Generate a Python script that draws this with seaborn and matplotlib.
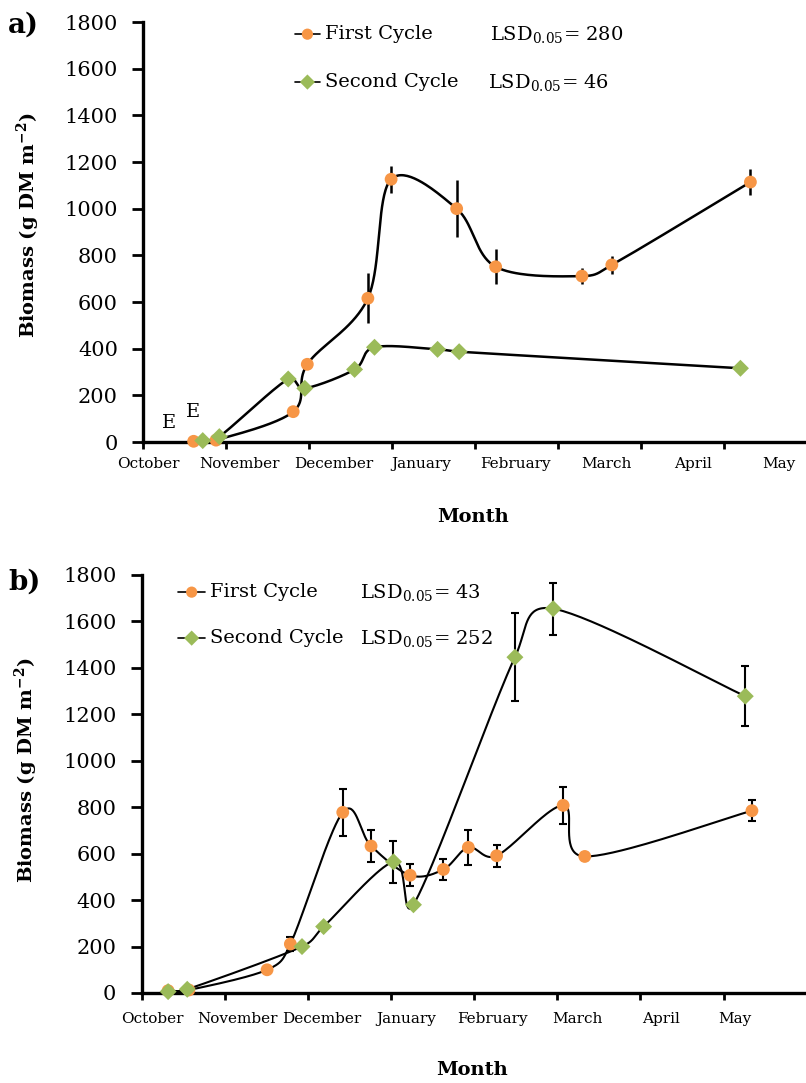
import numpy as np
import seaborn as sns
import matplotlib.pyplot as plt

# ==============================
# Data (x = months after 1 October)
# ==============================
months = ["October", "November", "December", "January",
          "February", "March", "April", "May"]
a_month_pos = [0.07, 1.16, 2.30, 3.35, 4.49, 5.58, 6.63, 7.66]
b_month_pos = [0.13, 1.15, 2.17, 3.18, 4.22, 5.24, 6.25, 7.14]

# panel a
a_first_x = [0.61, 0.88, 1.81, 1.98, 2.71, 2.99, 3.78, 4.25, 5.29, 5.65, 7.32]
a_first_y = [3, 8, 130, 333, 616, 1126, 1000, 751, 711, 759, 1114]
a_first_err = [0, 0, 0, 0, 107, 59, 121, 75, 34, 39, 54]

a_second_x = [0.72, 0.92, 1.75, 1.95, 2.55, 2.79, 3.55, 3.81, 7.20]
a_second_y = [6, 23, 270, 230, 311, 406, 397, 387, 316]
a_second_err = [0, 0, 0, 0, 0, 20, 0, 22, 0]

a_lsd = ["280", "46"]
e_x = [0.31, 0.60]
e_y = [83, 130]

# panel b
b_first_x = [0.32, 0.57, 1.51, 1.79, 2.42, 2.76, 3.23, 3.63, 3.93, 4.27, 5.07, 5.33, 7.34]
b_first_y = [10, 13, 100, 211, 778, 633, 507, 532, 627, 591, 808, 588, 785]
b_first_err = [0, 0, 0, 30, 100, 70, 47, 45, 75, 48, 80, 15, 45]

b_second_x = [0.32, 0.55, 1.93, 2.19, 3.03, 3.27, 4.49, 4.95, 7.26]
b_second_y = [6, 16, 200, 286, 565, 380, 1446, 1655, 1278]
b_second_err = [0, 0, 0, 0, 90, 12, 190, 112, 130]

b_lsd = ["43", "252"]

ORANGE = "#F79646"
GREEN = "#9BBB59"

# ==============================
# Style
# ==============================
sns.set_style("ticks")
plt.rcParams["font.family"] = ["DejaVu Serif"]
plt.rcParams["mathtext.fontset"] = "dejavuserif"
for k in ["text.color", "axes.labelcolor", "xtick.color", "ytick.color", "axes.edgecolor"]:
    plt.rcParams[k] = "black"


def smooth_curve(x, y, sx, sy, n=40):
    # Excel-like smoothed line: Catmull-Rom Bezier, arms capped at half a segment
    P = np.column_stack([np.asarray(x, float) * sx, np.asarray(y, float) * sy])
    pts = []
    t = np.linspace(0, 1, n)[:, None]
    for i in range(len(P) - 1):
        p0 = P[i - 1] if i > 0 else P[i]
        p1, p2 = P[i], P[i + 1]
        p3 = P[i + 2] if i + 2 < len(P) else P[i + 1]
        half = np.linalg.norm(p2 - p1) / 2
        a1 = (p2 - p0) / 6
        a2 = (p3 - p1) / 6
        for a in (a1, a2):
            n_a = np.linalg.norm(a)
            if n_a > half:
                a *= half / n_a
        c1 = p1 + a1
        c2 = p2 - a2
        seg = (1 - t) ** 3 * p1 + 3 * (1 - t) ** 2 * t * c1 + 3 * (1 - t) * t ** 2 * c2 + t ** 3 * p2
        pts.append(seg if i == 0 else seg[1:])
    pts = np.vstack(pts)
    return pts[:, 0] / sx, pts[:, 1] / sy


def draw_panel(ax, first, second, month_pos, lsd, lw, elw, capsize, leg):
    sx, sy = 83.0, 420.0 / 1800
    for (x, y, err), color, marker, s in [(first, ORANGE, "o", 85), (second, GREEN, "D", 75)]:
        xs, ys = smooth_curve(x, y, sx, sy)
        sns.lineplot(x=xs, y=ys, sort=False, estimator=None, color="black",
                     lw=lw, ax=ax, zorder=2)
        err = np.asarray(err, float)
        m = err > 0
        ax.errorbar(np.asarray(x)[m], np.asarray(y)[m], yerr=err[m], fmt="none",
                    ecolor="black", elinewidth=elw, capsize=capsize,
                    capthick=elw, zorder=3)
        sns.scatterplot(x=x, y=y, marker=marker, s=s, color=color,
                        edgecolor="none", ax=ax, zorder=4, clip_on=False)

    ax.set_xlim(0, 7.99)
    ax.set_ylim(0, 1800)
    ax.set_yticks(range(0, 1801, 200))
    ax.set_xticks(range(8))
    ax.set_xticklabels([])
    ax.set_xticks(month_pos, minor=True)
    ax.set_xticklabels(months, minor=True, fontsize=11)
    ax.tick_params(axis="x", which="major", direction="out", length=5, width=2)
    ax.tick_params(axis="x", which="minor", length=0, pad=leg["xpad"])
    ax.tick_params(axis="y", direction="out", length=8, width=2,
                   labelsize=15, pad=10)
    sns.despine(ax=ax)
    for sp in ["left", "bottom"]:
        ax.spines[sp].set_linewidth(2.4)

    ax.set_ylabel(r"Biomass (g DM m$^{\mathbf{-2}}$)", fontsize=14,
                  fontweight="bold")
    ax.yaxis.set_label_coords(-0.152, leg["ylab_y"])
    ax.set_xlabel("Month", fontsize=14, fontweight="bold")
    ax.xaxis.set_label_coords(0.497, leg["xlab_y"])
    ax.xaxis.label.set_va("top")

    # legend drawn by hand so the LSD values can sit beside each entry
    names = ["First Cycle", "Second Cycle"]
    for row, (name, color, marker, s) in enumerate(
            zip(names, [ORANGE, GREEN], ["o", "D"], [65, 60])):
        yr = leg["rows"][row]
        ax.plot(leg["handle"], [yr, yr], transform=ax.transAxes, color="black",
                lw=1.2, clip_on=False)
        ax.scatter([np.mean(leg["handle"])], [yr], transform=ax.transAxes,
                   marker=marker, s=s, color=color, edgecolor="none",
                   clip_on=False, zorder=5)
        ax.text(leg["text_x"], yr, name, transform=ax.transAxes, va="center",
                ha="left", fontsize=14)
        ax.text(leg["lsd_x"][row], yr, r"LSD$_{\mathregular{0.05}}$= " + lsd[row],
                transform=ax.transAxes, va="center", ha="left", fontsize=14)


fig = plt.figure(figsize=(8.06, 10.83), dpi=100)
ax_a = fig.add_axes([143 / 806, 1 - 442 / 1083, 663 / 806, 420 / 1083])
ax_b = fig.add_axes([141.5 / 806, 1 - 993 / 1083, 664.5 / 806, 418 / 1083])

draw_panel(ax_a, (a_first_x, a_first_y, a_first_err),
           (a_second_x, a_second_y, a_second_err), a_month_pos, a_lsd,
           lw=1.8, elw=1.8, capsize=0,
           leg=dict(rows=[0.971, 0.857], handle=[0.229, 0.267], text_x=0.274,
                    lsd_x=[0.523, 0.520], xpad=11, ylab_y=0.517, xlab_y=-0.157))
draw_panel(ax_b, (b_first_x, b_first_y, b_first_err),
           (b_second_x, b_second_y, b_second_err), b_month_pos, b_lsd,
           lw=1.5, elw=1.5, capsize=3,
           leg=dict(rows=[0.959, 0.849], handle=[0.055, 0.096], text_x=0.103,
                    lsd_x=[0.329, 0.329], xpad=14, ylab_y=0.533, xlab_y=-0.163))

for x, y in zip(e_x, e_y):
    ax_a.text(x, y, "E", ha="center", va="center", fontsize=14)

fig.text(8 / 806, 1 - 25 / 1083, "a)", fontsize=20, fontweight="bold", va="center")
fig.text(8 / 806, 1 - 582 / 1083, "b)", fontsize=20, fontweight="bold", va="center")

fig.savefig("out.png", dpi=100)
